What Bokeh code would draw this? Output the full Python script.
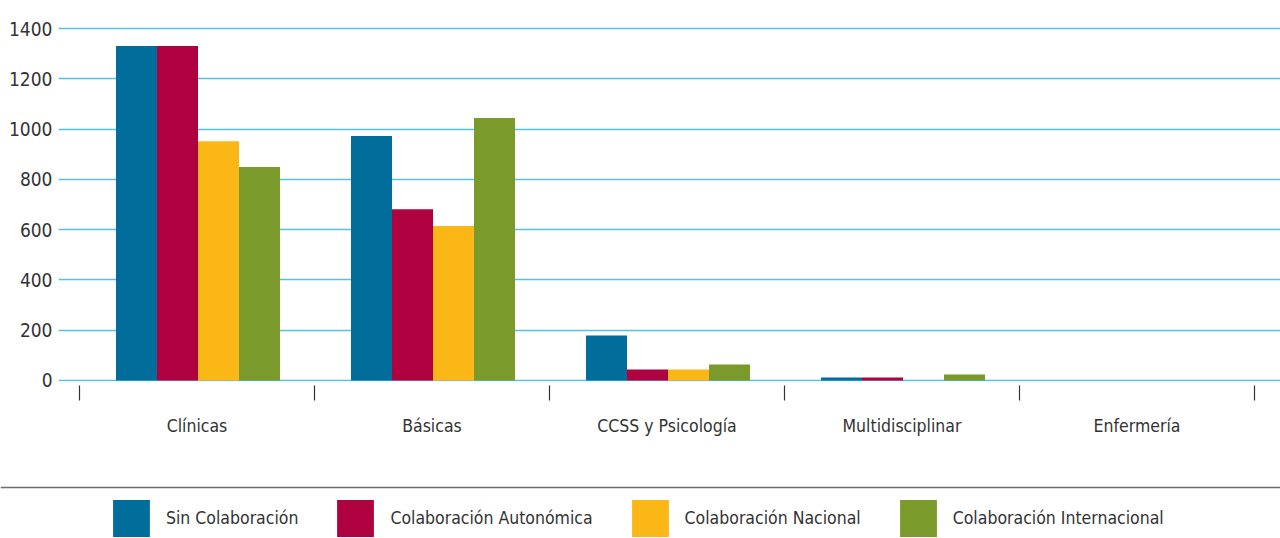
from bokeh.plotting import figure
from bokeh.models import (ColumnDataSource, FixedTicker, LinearAxis, Legend, LegendItem,
                          Range1d, Span, Grid)
from bokeh.transform import dodge
from bokeh.layouts import column, row
from bokeh.embed import file_html
from bokeh.resources import INLINE

# ---- data ----
categories = ["Clínicas", "Básicas", "CCSS y Psicología", "Multidisciplinar", "Enfermería"]
series_names = ["Sin Colaboración", "Colaboración Autonómica", "Colaboración Nacional",
                "Colaboración Internacional"]
sin_colab = [1330, 972, 179, 12, 0]
colab_autonomica = [1330, 681, 44, 12, 0]
colab_nacional = [952, 614, 44, 0, 0]
colab_internacional = [849, 1044, 64, 24, 0]
y_ticks = [0, 200, 400, 600, 800, 1000, 1200, 1400]

colors = ["#006D9A", "#AF003F", "#FBB715", "#7A9A2B"]
FONT = "'DejaVu Sans Condensed', 'DejaVu Sans', sans-serif"
TXT = "#333333"
GRID = "#55C0EA"

xc = [i + 0.5 for i in range(len(categories))]
src = ColumnDataSource(dict(x=xc, s0=sin_colab, s1=colab_autonomica,
                            s2=colab_nacional, s3=colab_internacional))

W = 1280
p = figure(width=W, height=470, output_backend="svg", toolbar_location=None,
           x_axis_type=None, y_axis_type=None,
           x_range=Range1d(-21 / 235, (1280 - 79) / 235),
           y_range=Range1d(-4, 1408),
           min_border_left=58, min_border_right=0, min_border_top=26, min_border_bottom=89)
p.outline_line_color = None
p.background_fill_color = "white"

bw = 0.1745
offsets = [-0.2575, -0.083, 0.0915, 0.266]
for k in range(4):
    p.vbar(x=dodge("x", offsets[k], range=p.x_range), top="s%d" % k, width=bw, source=src,
           fill_color=colors[k], line_color=None)

# y axis
yax = LinearAxis(ticker=FixedTicker(ticks=y_ticks, minor_ticks=[]))
yax.axis_line_color = None
yax.major_tick_line_color = None
yax.minor_tick_line_color = None
yax.major_tick_in = 0
yax.major_tick_out = 0
yax.major_label_standoff = 6
yax.major_label_text_font = FONT
yax.major_label_text_font_size = "19px"
yax.major_label_text_color = TXT
p.add_layout(yax, "left")

g = Grid(dimension=1, ticker=FixedTicker(ticks=y_ticks, minor_ticks=[]))
g.grid_line_color = GRID
g.grid_line_width = 1.3
p.add_layout(g)

# boundary ticks
bticks = list(range(len(categories) + 1))
xax1 = LinearAxis(ticker=FixedTicker(ticks=bticks, minor_ticks=[]))
xax1.major_label_overrides = {t: "" for t in bticks}
xax1.axis_line_color = None
xax1.major_tick_line_color = "#333333"
xax1.major_tick_line_width = 1.2
xax1.major_tick_in = -4
xax1.major_tick_out = 19
xax1.minor_tick_line_color = None
xax1.major_label_standoff = 0
p.add_layout(xax1, "below")

# category labels
xax2 = LinearAxis(ticker=FixedTicker(ticks=xc, minor_ticks=[]))
xax2.major_label_overrides = {x: c for x, c in zip(xc, categories)}
xax2.axis_line_color = None
xax2.major_tick_line_color = None
xax2.minor_tick_line_color = None
xax2.major_tick_in = 0
xax2.major_tick_out = 0
xax2.major_label_standoff = 15
xax2.major_label_text_font = FONT
xax2.major_label_text_font_size = "17.5px"
xax2.major_label_text_color = TXT
p.add_layout(xax2, "below")

# legend panel
H2 = 68
p2 = figure(width=W, height=H2, output_backend="svg", toolbar_location=None,
            x_axis_type=None, y_axis_type=None, x_range=Range1d(0, 1), y_range=Range1d(0, 1),
            min_border=0, min_border_left=0, min_border_right=0, min_border_top=0,
            min_border_bottom=0)
p2.outline_line_color = None
p2.add_layout(Span(location=1 - 17 / H2, dimension="width", line_color="#6E6E6E",
                   line_width=1.6))
items = []
for k in range(4):
    r = p2.vbar(x=[0.5], top=[0], width=0.0, fill_color=colors[k], line_color=None)
    items.append(LegendItem(label=series_names[k], renderers=[r]))
# legend glyphs are drawn at 80% of the glyph box
leg = Legend(items=items, orientation="horizontal", location=(108, -3),
             glyph_width=46, glyph_height=46, label_standoff=12, spacing=34,
             padding=0, margin=0, border_line_color=None, background_fill_alpha=0,
             label_text_font=FONT, label_text_font_size="17.5px", label_text_color=TXT)
p2.add_layout(leg, "center")

layout = column(p, row(p2), spacing=0)
open("out.html", "w").write(file_html(layout, INLINE))
